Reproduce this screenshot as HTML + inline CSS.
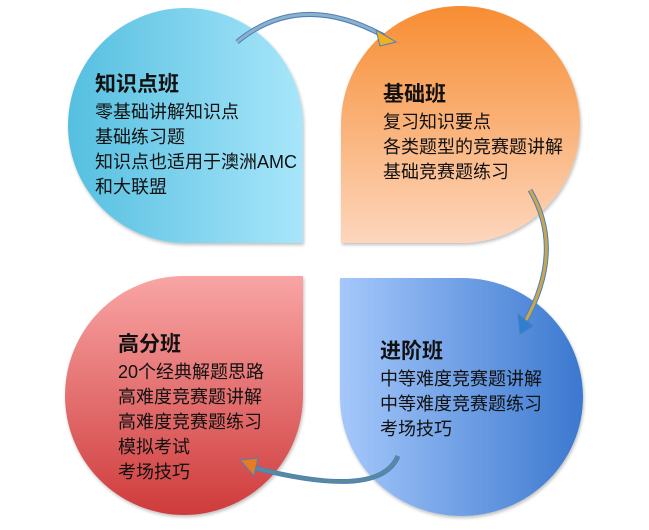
<!DOCTYPE html>
<html><head><meta charset="utf-8"><style>
body{margin:0;width:649px;height:530px;background:#fff;position:relative;overflow:hidden;font-family:"Liberation Sans","Noto Sans CJK SC",sans-serif;color:#111}
.s{position:absolute;box-shadow:1px 2px 3px rgba(0,0,0,0.25)}
.t{position:absolute;font-size:18px;line-height:25px;white-space:nowrap}
.t b{display:block;font-size:21px;line-height:30px}
</style></head><body>
<div class="s" style="left:68px;top:8px;width:235px;height:235px;border-radius:50% 50% 0 50%;background:linear-gradient(90deg,#55bfe0,#a8e6fa)"></div>
<div class="s" style="left:341px;top:6px;width:239px;height:237px;border-radius:50% 50% 50% 0;background:linear-gradient(180deg,#f78d32,#fdd6bd)"></div>
<div class="s" style="left:65px;top:276px;width:238px;height:239px;border-radius:50% 0 50% 50%;background:linear-gradient(180deg,#f9a5a5,#cf3b3b)"></div>
<div class="s" style="left:340px;top:278px;width:243px;height:238px;border-radius:0 50% 50% 50%;background:linear-gradient(90deg,#a5c8fb,#3b78cf)"></div>
<svg width="649" height="530" style="position:absolute;left:0;top:0">
<path d="M237 42 Q300 -10 384 36" fill="none" stroke="#4a7fc0" stroke-width="5"/>
<path d="M237 42 Q300 -10 384 36" fill="none" stroke="#8fb1c8" stroke-width="3"/>
<polygon points="376,30 396,42 380,46" fill="#f0b020" stroke="#4a7fc0"/>
<path d="M530 190 Q565 250 525 322" fill="none" stroke="#4a7fc0" stroke-width="5"/>
<path d="M530 190 Q565 250 525 322" fill="none" stroke="#c9a74a" stroke-width="3"/>
<polygon points="518,314 533,326 520,334" fill="#2f7fd0" stroke="#4a7fc0"/>
<path d="M398 456 Q380 500 255 468" fill="none" stroke="#4a7fc0" stroke-width="5"/>
<path d="M398 456 Q380 500 255 468" fill="none" stroke="#5a8a9a" stroke-width="3"/>
<polygon points="240,460 258,458 254,476" fill="#e87a20" stroke="#4a7fc0"/>
</svg>
<div class="t" style="left:95px;top:70px"><b>知识点班</b>零基础讲解知识点<br>基础练习题<br>知识点也适用于澳洲AMC<br>和大联盟</div>
<div class="t" style="left:383px;top:80px"><b>基础班</b>复习知识要点<br>各类题型的竞赛题讲解<br>基础竞赛题练习</div>
<div class="t" style="left:118px;top:330px"><b>高分班</b>20个经典解题思路<br>高难度竞赛题讲解<br>高难度竞赛题练习<br>模拟考试<br>考场技巧</div>
<div class="t" style="left:380px;top:337px"><b>进阶班</b>中等难度竞赛题讲解<br>中等难度竞赛题练习<br>考场技巧</div>
</body></html>
